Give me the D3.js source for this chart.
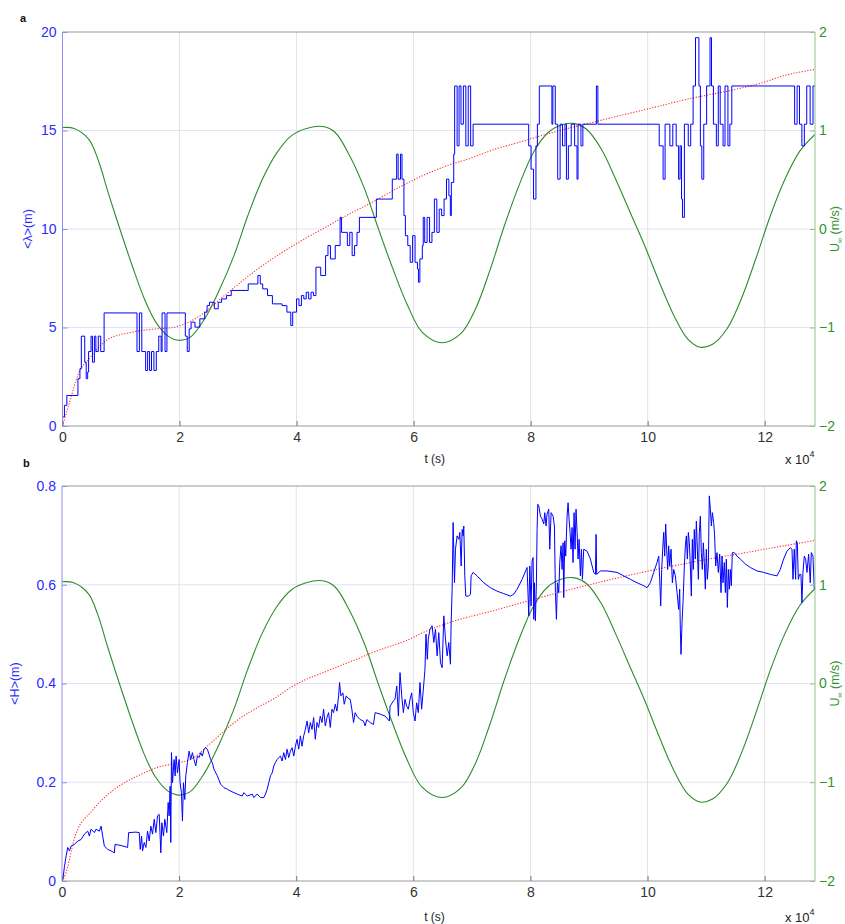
<!DOCTYPE html>
<html>
<head>
<meta charset="utf-8">
<script src="https://cdn.jsdelivr.net/npm/d3@7"></script>
<style>
  body { margin: 0; background: #fff; }
  svg { display: block; font-family: "Liberation Sans", Arial, Helvetica, sans-serif; }
</style>
</head>
<body>
<svg id="chart" width="845" height="924"></svg>
<script>
// Time is expressed in units of 10^4 s (axis multiplier "x 10^4").
const T_MAX = 12.86;
const xTicks = [0, 2, 4, 6, 8, 10, 12];
const lambdaTicks = [0, 5, 10, 15, 20];
const heightTicks = [0, 0.2, 0.4, 0.6, 0.8];
const uTicks = [-2, -1, 0, 1, 2];

// Free-stream current U∞ (m/s), shared by both panels
const uT = [0, 0.2, 0.45, 0.61, 0.78, 0.98, 1.19, 1.4, 1.6, 1.81, 1.98, 2.18, 2.43, 2.68, 2.93, 3.17, 3.42, 3.67, 3.92, 4.17, 4.45, 4.66, 4.91, 5.16, 5.4, 5.65, 5.9, 6.15, 6.48, 6.81, 7.06, 7.31, 7.55, 7.8, 8.05, 8.3, 8.55, 8.75, 8.96, 9.21, 9.45, 9.7, 9.95, 10.2, 10.45, 10.69, 10.9, 11.11, 11.36, 11.6, 11.85, 12.1, 12.35, 12.6, 12.86];
const uVal = [1.03, 1.02, 0.91, 0.70, 0.37, 0.0, -0.37, -0.71, -0.95, -1.09, -1.13, -1.10, -0.91, -0.62, -0.27, 0.14, 0.51, 0.78, 0.95, 1.02, 1.04, 0.98, 0.74, 0.41, 0.0, -0.41, -0.78, -1.05, -1.155, -1.06, -0.81, -0.41, 0.03, 0.44, 0.78, 0.98, 1.06, 1.07, 1.01, 0.81, 0.51, 0.17, -0.17, -0.54, -0.88, -1.12, -1.2, -1.17, -1.01, -0.71, -0.30, 0.14, 0.51, 0.79, 0.96];

// Mean ripple wavelength <λ> (m), piecewise constant
const lambdaT = [0, 0.033, 0.074, 0.264, 0.298, 0.322, 0.38, 0.405, 0.43, 0.446, 0.488, 0.512, 0.545, 0.57, 0.612, 0.653, 0.711, 1.273, 1.314, 1.355, 1.421, 1.455, 1.488, 1.521, 1.562, 1.603, 1.645, 1.686, 1.702, 1.752, 1.785, 2.099, 2.132, 2.165, 2.198, 2.264, 2.347, 2.43, 2.471, 2.512, 2.595, 2.661, 2.719, 2.802, 2.884, 3.174, 3.339, 3.38, 3.421, 3.504, 3.587, 3.752, 3.835, 3.901, 3.934, 4.0, 4.041, 4.083, 4.124, 4.165, 4.207, 4.248, 4.289, 4.331, 4.413, 4.496, 4.537, 4.579, 4.661, 4.744, 4.769, 4.868, 4.909, 4.95, 4.992, 5.033, 5.074, 5.364, 5.636, 5.711, 5.736, 5.777, 5.802, 5.835, 5.86, 5.901, 5.942, 5.983, 6.025, 6.066, 6.083, 6.107, 6.149, 6.165, 6.19, 6.231, 6.273, 6.314, 6.355, 6.397, 6.438, 6.479, 6.521, 6.562, 6.603, 6.628, 6.645, 6.686, 6.702, 6.744, 6.777, 6.81, 6.851, 6.893, 6.934, 6.975, 7.017, 7.967, 8.008, 8.05, 8.091, 8.116, 8.149, 8.364, 8.38, 8.421, 8.463, 8.504, 8.545, 8.587, 8.612, 8.645, 8.694, 8.752, 8.793, 8.81, 8.86, 8.893, 9.124, 9.149, 10.198, 10.264, 10.298, 10.38, 10.43, 10.488, 10.529, 10.554, 10.579, 10.595, 10.628, 10.694, 10.736, 10.777, 10.818, 10.876, 10.901, 10.926, 10.959, 11.008, 11.066, 11.091, 11.124, 11.174, 11.207, 11.24, 11.289, 11.322, 11.372, 11.405, 11.438, 12.512, 12.554, 12.595, 12.636, 12.678, 12.719, 12.777, 12.826, 12.86];
const lambdaVal = [0.46, 1.05, 1.55, 2.40, 2.91, 4.56, 3.24, 2.40, 2.74, 3.78, 4.56, 3.24, 4.56, 3.78, 4.56, 3.78, 5.74, 3.78, 5.74, 3.78, 2.82, 3.78, 2.82, 3.78, 2.82, 3.78, 4.56, 3.78, 5.74, 3.78, 5.74, 4.56, 3.78, 4.93, 5.27, 5.02, 5.44, 5.78, 6.11, 6.28, 5.95, 6.28, 6.45, 6.62, 6.88, 7.21, 7.64, 7.21, 6.96, 6.62, 6.20, 6.11, 5.78, 5.10, 5.78, 6.45, 6.11, 6.62, 6.45, 6.79, 6.45, 6.79, 6.62, 8.06, 7.64, 8.65, 9.16, 8.48, 9.16, 10.59, 9.83, 9.16, 9.83, 8.65, 9.16, 9.83, 10.59, 11.52, 12.53, 13.80, 12.53, 13.80, 12.53, 10.68, 9.66, 9.16, 8.31, 9.66, 8.31, 7.97, 7.30, 8.48, 9.16, 10.59, 9.32, 10.59, 9.32, 9.83, 11.52, 9.83, 11.01, 10.68, 11.52, 12.53, 11.69, 10.68, 12.36, 13.80, 17.26, 14.22, 17.26, 15.32, 17.26, 14.22, 17.26, 14.22, 15.32, 14.22, 13.04, 11.52, 14.22, 15.32, 17.26, 15.32, 17.26, 15.32, 12.53, 15.32, 14.22, 15.32, 12.53, 14.22, 15.32, 14.22, 12.53, 15.32, 14.22, 15.32, 17.26, 15.32, 14.22, 12.53, 15.32, 14.22, 15.32, 14.22, 12.53, 14.22, 11.52, 10.59, 15.32, 14.22, 15.32, 17.26, 19.71, 17.26, 14.22, 12.53, 15.32, 17.26, 19.71, 17.26, 15.32, 14.22, 17.26, 15.32, 14.22, 17.26, 14.22, 15.32, 17.26, 15.32, 17.26, 15.32, 14.22, 15.32, 17.26, 15.32, 17.26, 17.26];

// Predicted wavelength (dotted red)
const lambdaFitT = [0, 0.12, 0.28, 0.45, 0.78, 1.19, 1.6, 1.89, 2.1, 2.4, 2.6, 2.84, 3.26, 3.67, 4.08, 4.5, 4.9, 5.32, 5.74, 6.15, 6.56, 6.98, 7.39, 7.8, 8.21, 8.63, 9.04, 9.45, 9.87, 10.28, 10.69, 11.1, 11.52, 11.93, 12.35, 12.86];
const lambdaFitVal = [0, 1.2, 2.7, 3.4, 4.4, 4.76, 4.93, 5.0, 5.2, 5.7, 6.2, 6.8, 7.8, 8.65, 9.4, 10.1, 10.76, 11.4, 12.1, 12.7, 13.2, 13.6, 14.05, 14.4, 14.76, 15.1, 15.4, 15.7, 16.0, 16.3, 16.6, 16.84, 17.1, 17.4, 17.8, 18.1];

// Mean ripple height <H> (m)
const heightT = [0, 0.014, 0.043, 0.071, 0.099, 0.128, 0.156, 0.213, 0.27, 0.326, 0.383, 0.44, 0.468, 0.496, 0.553, 0.582, 0.638, 0.667, 0.695, 0.723, 0.78, 0.837, 0.894, 0.905, 1.007, 1.121, 1.138, 1.262, 1.319, 1.336, 1.359, 1.376, 1.404, 1.433, 1.461, 1.489, 1.518, 1.546, 1.575, 1.603, 1.631, 1.66, 1.688, 1.705, 1.733, 1.756, 1.79, 1.813, 1.83, 1.847, 1.858, 1.87, 1.887, 1.915, 1.932, 1.949, 1.972, 2.0, 2.017, 2.04, 2.057, 2.074, 2.097, 2.114, 2.142, 2.171, 2.199, 2.227, 2.255, 2.284, 2.312, 2.341, 2.369, 2.397, 2.426, 2.454, 2.482, 2.511, 2.539, 2.567, 2.596, 2.653, 2.709, 2.766, 2.823, 2.879, 2.936, 2.993, 3.078, 3.106, 3.163, 3.248, 3.277, 3.333, 3.39, 3.447, 3.475, 3.504, 3.532, 3.56, 3.589, 3.617, 3.645, 3.674, 3.702, 3.731, 3.759, 3.787, 3.816, 3.844, 3.872, 3.901, 3.929, 3.958, 3.986, 4.014, 4.043, 4.071, 4.099, 4.128, 4.156, 4.185, 4.213, 4.241, 4.27, 4.298, 4.326, 4.355, 4.383, 4.411, 4.44, 4.468, 4.497, 4.525, 4.553, 4.582, 4.61, 4.638, 4.667, 4.695, 4.724, 4.74, 4.763, 4.797, 4.82, 4.854, 4.877, 4.922, 4.95, 4.979, 5.007, 5.035, 5.092, 5.149, 5.177, 5.206, 5.263, 5.319, 5.348, 5.433, 5.518, 5.592, 5.603, 5.66, 5.688, 5.717, 5.745, 5.773, 5.802, 5.83, 5.858, 5.887, 5.915, 5.944, 5.972, 6.0, 6.029, 6.057, 6.085, 6.114, 6.142, 6.171, 6.199, 6.216, 6.239, 6.256, 6.284, 6.321, 6.35, 6.378, 6.407, 6.435, 6.464, 6.492, 6.521, 6.549, 6.578, 6.606, 6.634, 6.646, 6.663, 6.68, 6.703, 6.72, 6.748, 6.777, 6.794, 6.817, 6.834, 6.851, 6.862, 6.879, 6.896, 6.947, 6.976, 6.987, 7.021, 7.089, 7.203, 7.317, 7.431, 7.545, 7.659, 7.716, 7.772, 7.858, 7.943, 7.972, 7.989, 8.011, 8.028, 8.046, 8.057, 8.068, 8.085, 8.102, 8.114, 8.125, 8.142, 8.171, 8.199, 8.228, 8.245, 8.267, 8.284, 8.313, 8.33, 8.353, 8.387, 8.41, 8.427, 8.444, 8.461, 8.484, 8.501, 8.523, 8.541, 8.558, 8.569, 8.586, 8.603, 8.626, 8.643, 8.66, 8.677, 8.694, 8.711, 8.728, 8.745, 8.762, 8.779, 8.797, 8.814, 8.831, 8.853, 8.871, 8.888, 8.91, 8.967, 9.024, 9.081, 9.11, 9.121, 9.132, 9.195, 9.309, 9.479, 9.593, 9.707, 9.821, 9.935, 9.991, 10.048, 10.105, 10.162, 10.191, 10.208, 10.225, 10.242, 10.259, 10.276, 10.293, 10.31, 10.327, 10.344, 10.361, 10.378, 10.401, 10.424, 10.447, 10.475, 10.504, 10.532, 10.549, 10.56, 10.572, 10.589, 10.606, 10.629, 10.646, 10.663, 10.68, 10.697, 10.714, 10.731, 10.748, 10.765, 10.782, 10.799, 10.816, 10.834, 10.851, 10.868, 10.885, 10.902, 10.919, 10.936, 10.953, 10.97, 10.987, 11.004, 11.021, 11.038, 11.055, 11.073, 11.09, 11.107, 11.129, 11.146, 11.164, 11.186, 11.209, 11.232, 11.255, 11.272, 11.289, 11.312, 11.329, 11.346, 11.363, 11.38, 11.397, 11.414, 11.431, 11.448, 11.482, 11.528, 11.585, 11.67, 11.755, 11.869, 11.983, 12.097, 12.211, 12.267, 12.324, 12.381, 12.438, 12.467, 12.484, 12.506, 12.529, 12.541, 12.558, 12.575, 12.597, 12.62, 12.637, 12.654, 12.677, 12.7, 12.723, 12.751, 12.779, 12.797, 12.825, 12.848, 12.86];
const heightVal = [0, 0.003, 0.030, 0.051, 0.068, 0.061, 0.071, 0.074, 0.081, 0.084, 0.095, 0.101, 0.091, 0.105, 0.098, 0.105, 0.101, 0.111, 0.091, 0.071, 0.064, 0.061, 0.057, 0.074, 0.072, 0.068, 0.098, 0.099, 0.098, 0.064, 0.091, 0.061, 0.078, 0.068, 0.101, 0.081, 0.111, 0.095, 0.125, 0.098, 0.132, 0.135, 0.057, 0.118, 0.091, 0.125, 0.098, 0.159, 0.132, 0.192, 0.078, 0.260, 0.199, 0.246, 0.213, 0.253, 0.219, 0.246, 0.199, 0.179, 0.122, 0.199, 0.165, 0.213, 0.240, 0.263, 0.246, 0.260, 0.246, 0.233, 0.253, 0.250, 0.260, 0.253, 0.267, 0.270, 0.267, 0.257, 0.246, 0.240, 0.226, 0.213, 0.196, 0.189, 0.186, 0.182, 0.179, 0.176, 0.172, 0.179, 0.172, 0.176, 0.169, 0.176, 0.169, 0.169, 0.176, 0.186, 0.199, 0.213, 0.219, 0.233, 0.240, 0.246, 0.250, 0.253, 0.243, 0.260, 0.246, 0.267, 0.250, 0.263, 0.270, 0.253, 0.273, 0.287, 0.267, 0.294, 0.273, 0.294, 0.307, 0.324, 0.300, 0.321, 0.307, 0.331, 0.287, 0.321, 0.311, 0.334, 0.321, 0.348, 0.314, 0.331, 0.341, 0.311, 0.348, 0.341, 0.358, 0.344, 0.375, 0.402, 0.375, 0.381, 0.358, 0.375, 0.371, 0.368, 0.348, 0.321, 0.341, 0.334, 0.327, 0.324, 0.314, 0.327, 0.321, 0.317, 0.341, 0.338, 0.334, 0.324, 0.354, 0.365, 0.368, 0.395, 0.334, 0.422, 0.375, 0.341, 0.368, 0.354, 0.348, 0.368, 0.381, 0.341, 0.324, 0.361, 0.341, 0.402, 0.348, 0.388, 0.429, 0.500, 0.449, 0.490, 0.510, 0.517, 0.483, 0.510, 0.456, 0.503, 0.442, 0.432, 0.537, 0.490, 0.456, 0.483, 0.439, 0.523, 0.591, 0.726, 0.604, 0.672, 0.699, 0.692, 0.706, 0.638, 0.712, 0.699, 0.719, 0.618, 0.577, 0.577, 0.581, 0.618, 0.625, 0.618, 0.604, 0.594, 0.587, 0.582, 0.577, 0.581, 0.591, 0.611, 0.635, 0.537, 0.638, 0.557, 0.648, 0.655, 0.530, 0.604, 0.527, 0.604, 0.712, 0.763, 0.760, 0.739, 0.733, 0.723, 0.746, 0.719, 0.743, 0.753, 0.672, 0.746, 0.739, 0.719, 0.584, 0.530, 0.604, 0.584, 0.645, 0.679, 0.631, 0.685, 0.574, 0.689, 0.658, 0.739, 0.766, 0.733, 0.706, 0.672, 0.716, 0.645, 0.746, 0.672, 0.753, 0.706, 0.652, 0.692, 0.618, 0.672, 0.611, 0.672, 0.668, 0.652, 0.625, 0.621, 0.702, 0.621, 0.628, 0.628, 0.625, 0.618, 0.611, 0.604, 0.598, 0.594, 0.604, 0.625, 0.645, 0.658, 0.611, 0.557, 0.631, 0.672, 0.706, 0.658, 0.723, 0.672, 0.631, 0.679, 0.638, 0.672, 0.604, 0.631, 0.618, 0.584, 0.550, 0.591, 0.510, 0.459, 0.523, 0.564, 0.638, 0.679, 0.699, 0.652, 0.706, 0.685, 0.638, 0.577, 0.692, 0.631, 0.712, 0.652, 0.729, 0.672, 0.611, 0.706, 0.739, 0.665, 0.631, 0.685, 0.645, 0.591, 0.672, 0.611, 0.638, 0.780, 0.753, 0.719, 0.746, 0.726, 0.699, 0.638, 0.665, 0.625, 0.662, 0.584, 0.658, 0.604, 0.645, 0.584, 0.652, 0.554, 0.631, 0.591, 0.631, 0.598, 0.665, 0.665, 0.658, 0.652, 0.642, 0.635, 0.628, 0.625, 0.621, 0.618, 0.631, 0.652, 0.668, 0.675, 0.672, 0.611, 0.672, 0.611, 0.689, 0.685, 0.611, 0.621, 0.621, 0.564, 0.625, 0.658, 0.652, 0.625, 0.662, 0.604, 0.665, 0.658, 0.591, 0.594];

// Predicted height (dotted red)
const heightFitT = [0, 0.05, 0.23, 0.52, 0.8, 1.08, 1.37, 1.65, 1.93, 2.22, 2.5, 2.78, 3.07, 3.35, 3.63, 3.92, 4.2, 4.48, 4.77, 5.05, 5.33, 5.62, 5.9, 6.18, 6.58, 7.38, 8.51, 9.64, 10.78, 11.91, 12.86];
const heightFitVal = [0, 0.011, 0.093, 0.143, 0.177, 0.2, 0.217, 0.231, 0.238, 0.248, 0.275, 0.305, 0.332, 0.352, 0.37, 0.393, 0.41, 0.423, 0.437, 0.45, 0.464, 0.476, 0.488, 0.504, 0.522, 0.548, 0.585, 0.618, 0.646, 0.67, 0.69];

const zip = (ts, vs) => ts.map((t, i) => ({ t, v: vs[i] }));
const uSeries = zip(uT, uVal);

const COLORS = {
  blue: "#0000ff",
  blueText: "#2b2bff",
  blueAxis: "#8c8cf5",
  green: "#2c8c2c",
  greenText: "#2f932f",
  greenAxis: "#8cc68c",
  red: "#ff2a2a",
  frame: "#9a9a9a",
  gridV: "#e3e3e3",
  gridH: "#e2e2f7"
};

const svg = d3.select("#chart");

function drawPanel(cfg) {
  const x = d3.scaleLinear().domain([0, T_MAX]).range([cfg.left, cfg.right]);
  const y = d3.scaleLinear().domain(cfg.yDomain).range([cfg.bottom, cfg.top]);
  const yR = d3.scaleLinear().domain([-2, 2]).range([cfg.bottom, cfg.top]);
  const g = svg.append("g");

  const clipId = "clip-" + cfg.id;
  svg.append("defs").append("clipPath").attr("id", clipId)
    .append("rect")
    .attr("x", cfg.left).attr("y", cfg.top)
    .attr("width", cfg.right - cfg.left).attr("height", cfg.bottom - cfg.top);

  // grid
  g.append("g").selectAll("line").data(xTicks.filter(d => d > 0)).join("line")
    .attr("x1", d => x(d)).attr("x2", d => x(d))
    .attr("y1", cfg.top).attr("y2", cfg.bottom)
    .attr("stroke", COLORS.gridV).attr("stroke-width", 1);
  g.append("g").selectAll("line").data(cfg.yTicks.slice(1, -1)).join("line")
    .attr("x1", cfg.left).attr("x2", cfg.right)
    .attr("y1", d => y(d)).attr("y2", d => y(d))
    .attr("stroke", COLORS.gridH).attr("stroke-width", 1);

  const plot = g.append("g").attr("clip-path", `url(#${clipId})`);

  // current (right axis)
  plot.append("path")
    .datum(uSeries)
    .attr("fill", "none").attr("stroke", COLORS.green).attr("stroke-width", 1.1)
    .attr("d", d3.line().x(d => x(d.t)).y(d => yR(d.v)).curve(d3.curveCatmullRom.alpha(0.5)));

  // prediction
  plot.append("path")
    .datum(cfg.fit)
    .attr("fill", "none").attr("stroke", COLORS.red).attr("stroke-width", 1.1)
    .attr("stroke-dasharray", "1.2,1.6")
    .attr("d", d3.line().x(d => x(d.t)).y(d => y(d.v)).curve(d3.curveMonotoneX));

  // measurement
  plot.append("path")
    .datum(cfg.series)
    .attr("fill", "none").attr("stroke", COLORS.blue).attr("stroke-width", 1)
    .attr("stroke-linejoin", "round")
    .attr("d", d3.line().x(d => x(d.t)).y(d => y(d.v)).curve(cfg.curve));

  // frame
  g.append("line").attr("x1", cfg.left).attr("x2", cfg.right).attr("y1", cfg.top).attr("y2", cfg.top)
    .attr("stroke", COLORS.frame);
  g.append("line").attr("x1", cfg.left).attr("x2", cfg.right).attr("y1", cfg.bottom).attr("y2", cfg.bottom)
    .attr("stroke", COLORS.frame);
  g.append("line").attr("x1", cfg.left).attr("x2", cfg.left).attr("y1", cfg.top).attr("y2", cfg.bottom)
    .attr("stroke", COLORS.blueAxis);
  g.append("line").attr("x1", cfg.right).attr("x2", cfg.right).attr("y1", cfg.top).attr("y2", cfg.bottom)
    .attr("stroke", COLORS.greenAxis);

  // axes
  const axB = g.append("g").attr("transform", `translate(0,${cfg.bottom})`)
    .call(d3.axisBottom(x).tickValues(xTicks).tickSize(-5).tickPadding(6).tickFormat(d3.format("d")));
  axB.select(".domain").remove();
  axB.selectAll("line").attr("stroke", "#777");
  axB.selectAll("text").attr("fill", "#333").attr("font-size", 14)
    .attr("font-family", "Liberation Sans, Arial, sans-serif");

  const axL = g.append("g").attr("transform", `translate(${cfg.left},0)`)
    .call(d3.axisLeft(y).tickValues(cfg.yTicks).tickSize(-5).tickPadding(6).tickFormat(cfg.yFormat));
  axL.select(".domain").remove();
  axL.selectAll("line").attr("stroke", COLORS.blueAxis);
  axL.selectAll("text").attr("fill", COLORS.blueText).attr("font-size", 14)
    .attr("font-family", "Liberation Sans, Arial, sans-serif");

  const axR = g.append("g").attr("transform", `translate(${cfg.right},0)`)
    .call(d3.axisRight(yR).tickValues(uTicks).tickSize(-5).tickPadding(4).tickFormat(d3.format("d")));
  axR.select(".domain").remove();
  axR.selectAll("line").attr("stroke", COLORS.greenAxis);
  axR.selectAll("text").attr("fill", COLORS.greenText).attr("font-size", 14)
    .attr("font-family", "Liberation Sans, Arial, sans-serif");

  // labels
  svg.append("text").attr("x", cfg.tagX).attr("y", cfg.tagY)
    .attr("font-size", 11).attr("font-weight", "bold").attr("fill", "#111").text(cfg.tag);

  svg.append("text")
    .attr("transform", `translate(${cfg.yLabelX},${(cfg.top + cfg.bottom) / 2}) rotate(-90)`)
    .attr("text-anchor", "middle").attr("font-size", 12.5).attr("fill", COLORS.blueText)
    .text(cfg.yLabel);

  const rl = svg.append("text")
    .attr("transform", `translate(${cfg.right + 24},${(cfg.top + cfg.bottom) / 2}) rotate(-90)`)
    .attr("text-anchor", "middle").attr("font-size", 12.5).attr("fill", COLORS.greenText);
  rl.append("tspan").text("U");
  rl.append("tspan").attr("font-size", 7).attr("dy", 3).text("∞");
  rl.append("tspan").attr("dy", -3).text(" (m/s)");

  svg.append("text").attr("x", (cfg.left + cfg.right) / 2 - 4).attr("y", cfg.bottom + cfg.xLabelDy)
    .attr("text-anchor", "middle").attr("font-size", 12).attr("fill", "#222").text("t (s)");

  const mult = svg.append("text").attr("x", cfg.right - 30).attr("y", cfg.bottom + cfg.multDy)
    .attr("font-size", 13).attr("fill", "#222");
  mult.append("tspan").text("x 10");
  mult.append("tspan").attr("font-size", 9).attr("dy", -7).text("4");
}

drawPanel({
  id: "a", tag: "a", tagX: 20, tagY: 22,
  left: 62.5, right: 815, top: 32, bottom: 426,
  yDomain: [0, 20], yTicks: lambdaTicks, yFormat: d3.format("d"),
  yLabel: "<λ>(m)", yLabelX: 32,
  series: zip(lambdaT, lambdaVal), curve: d3.curveStepAfter,
  fit: zip(lambdaFitT, lambdaFitVal),
  xLabelDy: 37, multDy: 38
});

drawPanel({
  id: "b", tag: "b", tagX: 23, tagY: 467,
  left: 62, right: 815, top: 486, bottom: 881,
  yDomain: [0, 0.8], yTicks: heightTicks, yFormat: d => d === 0 ? "0" : d3.format(".1f")(d),
  yLabel: "<H>(m)", yLabelX: 19,
  series: zip(heightT, heightVal), curve: d3.curveLinear,
  fit: zip(heightFitT, heightFitVal),
  xLabelDy: 40, multDy: 41
});
</script>
</body>
</html>
